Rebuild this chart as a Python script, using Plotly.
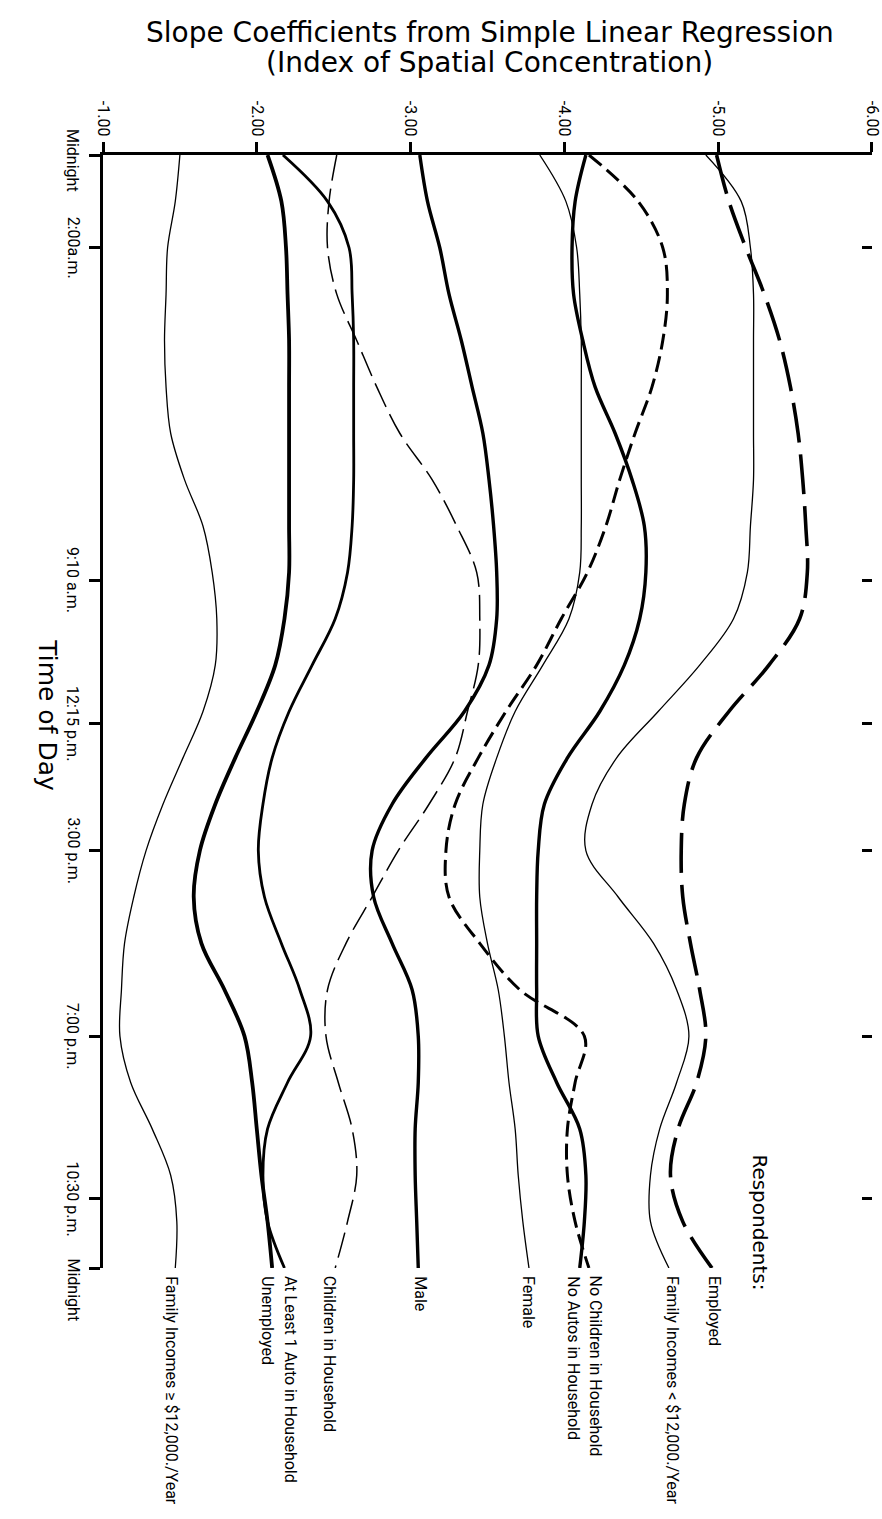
import plotly.graph_objects as go

# Hour of day (0 = midnight) at which each slope value is read
HOURS = list(range(25))

# Slope coefficients (index of spatial concentration) by respondent group
FAMILY_INCOME_HIGH = [-1.50, -1.47, -1.42, -1.41, -1.40, -1.41, -1.44, -1.53, -1.65, -1.71, -1.74, -1.73, -1.65,
                      -1.52, -1.39, -1.28, -1.20, -1.14, -1.12, -1.11, -1.18, -1.32, -1.44, -1.48, -1.47]
UNEMPLOYED = [-2.07, -2.16, -2.19, -2.20, -2.21, -2.21, -2.21, -2.21, -2.21, -2.21, -2.18, -2.12, -2.00,
              -1.86, -1.73, -1.63, -1.59, -1.64, -1.79, -1.92, -1.97, -2.00, -2.03, -2.07, -2.10]
AUTO_ONE_PLUS = [-2.17, -2.46, -2.60, -2.62, -2.63, -2.63, -2.63, -2.63, -2.62, -2.59, -2.51, -2.36, -2.21,
                 -2.10, -2.04, -2.01, -2.05, -2.16, -2.28, -2.35, -2.20, -2.07, -2.04, -2.07, -2.18]
CHILDREN = [-2.52, -2.47, -2.46, -2.52, -2.65, -2.78, -2.93, -3.14, -3.30, -3.43, -3.45, -3.44, -3.37,
            -3.29, -3.12, -2.92, -2.75, -2.58, -2.46, -2.45, -2.53, -2.62, -2.65, -2.59, -2.51]
MALE = [-3.06, -3.11, -3.19, -3.25, -3.33, -3.40, -3.47, -3.51, -3.54, -3.56, -3.56, -3.51, -3.35,
        -3.10, -2.88, -2.75, -2.76, -2.88, -3.01, -3.05, -3.05, -3.03, -3.03, -3.04, -3.05]
FEMALE = [-3.84, -4.01, -4.08, -4.10, -4.11, -4.11, -4.11, -4.11, -4.11, -4.10, -4.03, -3.86, -3.68,
          -3.56, -3.47, -3.45, -3.45, -3.50, -3.57, -3.61, -3.64, -3.68, -3.70, -3.73, -3.77]
NO_AUTOS = [-4.14, -4.07, -4.05, -4.06, -4.12, -4.20, -4.33, -4.44, -4.52, -4.53, -4.49, -4.39, -4.23,
            -4.02, -3.87, -3.83, -3.82, -3.82, -3.82, -3.83, -3.95, -4.10, -4.14, -4.13, -4.10]
NO_CHILDREN = [-4.16, -4.48, -4.64, -4.67, -4.64, -4.57, -4.46, -4.36, -4.27, -4.15, -3.98, -3.82, -3.62,
               -3.44, -3.29, -3.23, -3.25, -3.45, -3.71, -4.13, -4.07, -4.02, -4.02, -4.07, -4.16]
FAMILY_INCOME_LOW = [-4.92, -5.15, -5.21, -5.23, -5.23, -5.23, -5.23, -5.23, -5.21, -5.19, -5.10, -4.88, -4.61,
                     -4.34, -4.18, -4.14, -4.35, -4.58, -4.73, -4.81, -4.73, -4.62, -4.56, -4.56, -4.68]
EMPLOYED = [-4.99, -5.07, -5.18, -5.30, -5.40, -5.47, -5.52, -5.55, -5.57, -5.58, -5.53, -5.33, -5.07,
            -4.86, -4.78, -4.76, -4.77, -4.82, -4.88, -4.92, -4.86, -4.74, -4.69, -4.77, -4.96]

# Axis ticks
SLOPE_TICKS = [-1, -2, -3, -4, -5, -6]
SLOPE_LABELS = ["-1.00", "-2.00", "-3.00", "-4.00", "-5.00", "-6.00"]
TIME_TICKS = [0, 2, 9 + 10 / 60, 12.25, 15, 19, 22.5, 24]
TIME_LABELS = ["Midnight", "2:00a.m.", "9:10 a.m.", "12:15 p.m.", "3:00 p.m.", "7:00 p.m.", "10:30 p.m.", "Midnight"]

# (label, values, line width, dash, label x-shift in px)
SERIES = [
    ("Family Incomes ≥ $12,000./Year", FAMILY_INCOME_HIGH, 1.3, "solid", -4),
    ("Unemployed", UNEMPLOYED, 3.8, "solid", -5),
    ("At Least 1 Auto in Household", AUTO_ONE_PLUS, 2.8, "solid", 6),
    ("Children in Household", CHILDREN, 1.5, "26px,8px", -5),
    ("Male", MALE, 3.4, "solid", 2),
    ("Female", FEMALE, 1.3, "solid", 0),
    ("No Autos in Household", NO_AUTOS, 3.4, "solid", -6),
    ("No Children in Household", NO_CHILDREN, 3.0, "16px,7px", 7),
    ("Family Incomes < $12,000./Year", FAMILY_INCOME_LOW, 1.3, "solid", 4),
    ("Employed", EMPLOYED, 3.6, "40px,12px", 3),
]

LABEL_FONT = dict(family="Roboto, Liberation Sans, sans-serif", size=16, color="black")
TITLE_FONT = dict(family="DejaVu Sans, Open Sans, sans-serif", size=28, color="black")

fig = go.Figure()

for i, (name, vals, width, dash, _) in enumerate(SERIES):
    fig.add_trace(go.Scatter(
        x=vals, y=HOURS, mode="lines", name=name,
        line=dict(color="black", width=width, dash=dash, shape="spline", smoothing=1.0),
        yaxis="y2" if i == len(SERIES) - 1 else "y",
        showlegend=False, hoverinfo="skip",
    ))

# Series labels hanging below the midnight end of each curve
for name, vals, width, dash, shift in SERIES:
    fig.add_annotation(
        x=vals[-1], y=24, xref="x", yref="y", text=name, showarrow=False,
        textangle=90, xanchor="center", yanchor="top", yshift=-6, xshift=shift,
        font=LABEL_FONT,
    )

# Time-of-day tick labels, the closing midnight set just below its tick
last = len(TIME_TICKS) - 1
for i, (t, lab) in enumerate(zip(TIME_TICKS, TIME_LABELS)):
    fig.add_annotation(
        x=-0.039, y=t, xref="paper", yref="y", text=lab, showarrow=False,
        textangle=90, xanchor="center", yanchor="top" if i == last else "middle",
        yshift=12 if i == last else (-5 if i == 0 else 0),
        font=LABEL_FONT,
    )

fig.add_annotation(
    x=-5.27, y=21.5, xref="x", yref="y", text="Respondents:", showarrow=False,
    textangle=90, xanchor="center", yanchor="top", font=dict(TITLE_FONT, size=20),
)
fig.add_annotation(
    x=-0.072, y=0.497, xref="paper", yref="paper", text="Time of Day", showarrow=False,
    textangle=90, xanchor="center", yanchor="middle", font=dict(TITLE_FONT, size=25),
)
fig.add_annotation(
    x=0.503, y=1.1105, xref="paper", yref="paper",
    text="Slope Coefficients from Simple Linear Regression",
    showarrow=False, xanchor="center", yanchor="middle", font=TITLE_FONT,
)
fig.add_annotation(
    x=0.503, y=1.0835, xref="paper", yref="paper",
    text="(Index of Spatial Concentration)",
    showarrow=False, xanchor="center", yanchor="middle", font=TITLE_FONT,
)

fig.update_layout(
    width=882, height=1519,
    margin=dict(l=103, r=10, t=155, b=251),
    paper_bgcolor="white", plot_bgcolor="white",
    template="none",
    xaxis=dict(
        side="top", range=[-1, -6.0005], tickvals=SLOPE_TICKS, ticktext=SLOPE_LABELS,
        tickangle=90, ticks="outside", ticklen=10, tickwidth=3, tickcolor="black",
        showline=True, linewidth=3, linecolor="black", showgrid=False, zeroline=False,
        tickfont=LABEL_FONT,
    ),
    yaxis=dict(
        range=[24, 0], tickvals=TIME_TICKS, showticklabels=False,
        ticks="outside", ticklen=11, tickwidth=3, tickcolor="black",
        showline=True, linewidth=3, linecolor="black", showgrid=False, zeroline=False,
    ),
    yaxis2=dict(
        overlaying="y", matches="y", side="right", range=[24, 0],
        tickvals=TIME_TICKS[1:], ticks="inside", ticklen=10, tickwidth=3, tickcolor="black",
        showticklabels=False, showline=False, showgrid=False, zeroline=False,
    ),
)

fig.write_html("out.html")
